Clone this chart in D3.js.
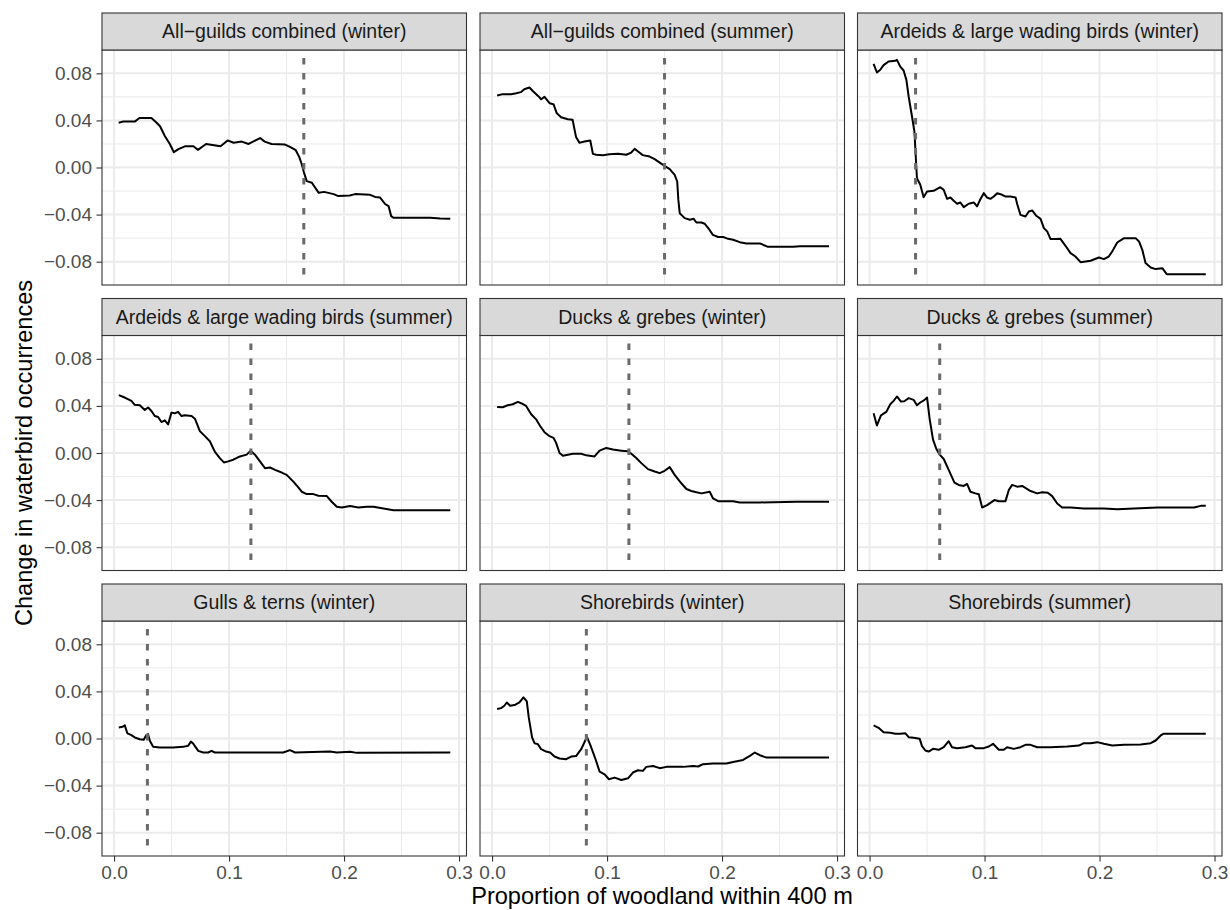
<!DOCTYPE html>
<html>
<head>
<meta charset="utf-8">
<script src="https://cdn.jsdelivr.net/npm/d3@7"></script>
<style>
  body { margin: 0; background: #fff; }
  text { font-family: "Liberation Sans", Arial, sans-serif; }
</style>
</head>
<body>
<div class="facetChart"></div>
<script>
// panel titles, in facet order (row by row)
var panelTitles = [
  "All\u2212guilds combined (winter)",
  "All\u2212guilds combined (summer)",
  "Ardeids & large wading birds (winter)",
  "Ardeids & large wading birds (summer)",
  "Ducks & grebes (winter)",
  "Ducks & grebes (summer)",
  "Gulls & terns (winter)",
  "Shorebirds (winter)",
  "Shorebirds (summer)"
];

// threshold (dashed line) per panel, null = none
var thresholds = [0.165, 0.150, 0.040, 0.119, 0.119, 0.061, 0.029, 0.082, null];

var xTicks = [0, 0.1, 0.2, 0.3];
var xMinor = [0.05, 0.15, 0.25];
var yTicks = [-0.08, -0.04, 0, 0.04, 0.08];
var yMinor = [-0.06, -0.02, 0.02, 0.06];

// [proportion of woodland, change in occurrence]
var allWinter = [[0.004,0.038],[0.008,0.039],[0.018,0.039],[0.022,0.042],[0.0325,0.042],[0.037,0.038],[0.040,0.035],[0.044,0.027],[0.0485,0.020],[0.052,0.013],[0.056,0.0156],[0.0616,0.018],[0.069,0.018],[0.073,0.015],[0.080,0.020],[0.0926,0.018],[0.0987,0.023],[0.104,0.021],[0.111,0.022],[0.117,0.020],[0.127,0.025],[0.131,0.022],[0.137,0.020],[0.1487,0.0195],[0.153,0.0175],[0.158,0.0147],[0.161,0.009],[0.163,0.0034],[0.165,-0.0037],[0.1675,-0.0116],[0.172,-0.013],[0.178,-0.0215],[0.1826,-0.0207],[0.191,-0.0226],[0.195,-0.0243],[0.205,-0.0238],[0.2096,-0.0226],[0.2227,-0.0232],[0.227,-0.025],[0.2314,-0.0255],[0.2357,-0.031],[0.2387,-0.0328],[0.241,-0.0413],[0.243,-0.0427],[0.275,-0.0427],[0.2837,-0.0433],[0.2924,-0.0436]];

var allSummer = [[0.0044,0.0611],[0.0093,0.0623],[0.0166,0.0623],[0.021,0.063],[0.025,0.064],[0.028,0.0665],[0.0325,0.068],[0.0354,0.065],[0.0398,0.061],[0.0427,0.058],[0.0456,0.060],[0.050,0.0546],[0.0534,0.0538],[0.0563,0.046],[0.060,0.0427],[0.066,0.041],[0.070,0.0405],[0.073,0.026],[0.076,0.021],[0.0804,0.022],[0.0854,0.0229],[0.0877,0.0116],[0.0906,0.0108],[0.0964,0.0105],[0.102,0.0113],[0.1095,0.0116],[0.1167,0.0108],[0.121,0.0127],[0.124,0.0158],[0.127,0.0136],[0.131,0.0105],[0.137,0.0093],[0.1414,0.0071],[0.1458,0.0042],[0.150,0.0014],[0.1545,-0.0014],[0.1588,-0.0062],[0.161,-0.0119],[0.162,-0.0275],[0.1632,-0.0388],[0.1675,-0.043],[0.172,-0.0444],[0.1753,-0.0436],[0.1777,-0.0467],[0.182,-0.0467],[0.185,-0.0478],[0.1887,-0.0523],[0.192,-0.0572],[0.1966,-0.059],[0.201,-0.059],[0.2053,-0.0606],[0.2096,-0.0614],[0.2154,-0.0634],[0.2213,-0.0645],[0.2329,-0.0645],[0.240,-0.0674],[0.262,-0.0674],[0.2677,-0.0668],[0.293,-0.0668]];

var ardWinter = [[0.0035,0.088],[0.0064,0.0807],[0.0093,0.083],[0.0122,0.087],[0.0165,0.090],[0.0224,0.0906],[0.0238,0.0914],[0.0267,0.0857],[0.0296,0.0824],[0.032,0.0744],[0.034,0.0603],[0.0369,0.0433],[0.039,0.0306],[0.040,0.0122],[0.0412,-0.0091],[0.0441,-0.0147],[0.047,-0.0252],[0.050,-0.0204],[0.0557,-0.0198],[0.0615,-0.0167],[0.0645,-0.019],[0.0674,-0.0266],[0.0703,-0.0255],[0.0732,-0.0283],[0.0761,-0.0308],[0.079,-0.0297],[0.0819,-0.0337],[0.0862,-0.0308],[0.0906,-0.0297],[0.0935,-0.033],[0.0964,-0.0269],[0.0993,-0.0218],[0.1022,-0.0255],[0.1051,-0.0266],[0.108,-0.0246],[0.111,-0.0218],[0.1153,-0.0232],[0.118,-0.0246],[0.1225,-0.0246],[0.127,-0.0255],[0.1283,-0.0308],[0.1312,-0.0402],[0.1356,-0.0416],[0.1385,-0.0374],[0.1414,-0.0365],[0.145,-0.041],[0.1487,-0.0436],[0.1516,-0.0515],[0.1545,-0.0543],[0.1574,-0.0608],[0.1617,-0.0608],[0.166,-0.0606],[0.1704,-0.0665],[0.1748,-0.0727],[0.179,-0.0756],[0.1835,-0.0804],[0.1922,-0.0792],[0.1995,-0.0764],[0.2038,-0.0778],[0.208,-0.0756],[0.211,-0.0713],[0.2154,-0.0637],[0.2213,-0.060],[0.2314,-0.060],[0.2343,-0.0628],[0.2372,-0.0699],[0.240,-0.0812],[0.2445,-0.0849],[0.2488,-0.0863],[0.2546,-0.0855],[0.2584,-0.0906],[0.2735,-0.0906],[0.2924,-0.0906]];

var ardSummer = [[0.0041,0.0491],[0.0093,0.0471],[0.0151,0.0443],[0.018,0.0409],[0.0224,0.0406],[0.0267,0.0366],[0.0296,0.0386],[0.0325,0.0357],[0.0354,0.0314],[0.0383,0.0306],[0.0412,0.0263],[0.0441,0.0277],[0.047,0.0243],[0.0499,0.0343],[0.0528,0.0337],[0.0557,0.0349],[0.0587,0.0314],[0.0616,0.032],[0.0674,0.0314],[0.0703,0.0291],[0.0746,0.0186],[0.079,0.0143],[0.0833,0.010],[0.0877,0.0009],[0.092,-0.0043],[0.0955,-0.008],[0.0993,-0.0071],[0.1037,-0.0057],[0.1095,-0.0029],[0.1153,-0.0014],[0.1188,0.002],[0.1225,-0.0014],[0.1269,-0.0071],[0.1312,-0.0129],[0.1356,-0.0123],[0.140,-0.0143],[0.1458,-0.0166],[0.1501,-0.0186],[0.1559,-0.0243],[0.1597,-0.0286],[0.1632,-0.0329],[0.1675,-0.0349],[0.1733,-0.0349],[0.1777,-0.0363],[0.185,-0.0366],[0.1893,-0.0414],[0.1937,-0.0457],[0.198,-0.0463],[0.2053,-0.0451],[0.2125,-0.0463],[0.2198,-0.0457],[0.2256,-0.0457],[0.2343,-0.0471],[0.243,-0.0486],[0.2924,-0.0486]];

var duckWinter = [[0.0044,0.0391],[0.0093,0.0389],[0.0136,0.0406],[0.018,0.0414],[0.0224,0.0434],[0.0253,0.0423],[0.0296,0.040],[0.034,0.0329],[0.0383,0.0286],[0.0418,0.0229],[0.0456,0.0177],[0.050,0.0143],[0.0534,0.0129],[0.0557,0.0086],[0.0587,0.0],[0.0616,-0.0023],[0.0659,-0.0014],[0.0703,-0.0006],[0.0775,-0.0006],[0.0819,-0.002],[0.0891,-0.0029],[0.0935,0.002],[0.0993,0.0043],[0.1051,0.0029],[0.1124,0.002],[0.1182,0.0014],[0.1211,-0.0006],[0.1254,-0.0043],[0.1298,-0.0086],[0.1356,-0.0137],[0.1414,-0.0157],[0.1458,-0.0171],[0.1501,-0.0151],[0.1545,-0.012],[0.1588,-0.0186],[0.1646,-0.0257],[0.169,-0.0306],[0.1733,-0.0323],[0.1777,-0.0334],[0.1821,-0.0343],[0.1893,-0.0329],[0.1922,-0.0386],[0.1966,-0.0409],[0.2024,-0.0409],[0.2096,-0.0409],[0.2154,-0.042],[0.2329,-0.042],[0.2648,-0.0414],[0.293,-0.0414]];

var duckSummer = [[0.0035,0.0337],[0.0064,0.0234],[0.0099,0.032],[0.0145,0.0349],[0.018,0.0414],[0.0209,0.0443],[0.0238,0.048],[0.0273,0.0437],[0.0302,0.044],[0.034,0.0466],[0.0383,0.0451],[0.0412,0.0406],[0.0441,0.0429],[0.0476,0.0449],[0.050,0.0471],[0.0523,0.0286],[0.0552,0.0114],[0.0581,0.0034],[0.061,-0.0014],[0.0645,-0.0051],[0.0688,-0.0143],[0.0738,-0.0251],[0.0775,-0.0271],[0.0819,-0.028],[0.0848,-0.0263],[0.0877,-0.0329],[0.092,-0.0343],[0.095,-0.0351],[0.0979,-0.0463],[0.1022,-0.0443],[0.1086,-0.040],[0.1124,-0.0409],[0.1182,-0.0409],[0.1211,-0.0314],[0.124,-0.0271],[0.1283,-0.0286],[0.1327,-0.028],[0.140,-0.0323],[0.1458,-0.0343],[0.1501,-0.0334],[0.155,-0.0337],[0.1588,-0.0366],[0.1632,-0.0429],[0.1675,-0.0463],[0.1748,-0.0463],[0.1864,-0.0471],[0.2038,-0.0471],[0.2154,-0.0477],[0.230,-0.0471],[0.2503,-0.0463],[0.2822,-0.0463],[0.288,-0.0449],[0.2924,-0.0449]];

var gullWinter = [[0.0041,0.0094],[0.0073,0.0099],[0.0093,0.0113],[0.0116,0.0043],[0.0151,0.0028],[0.018,0.0009],[0.0224,-0.0006],[0.0258,-0.0011],[0.0282,0.0031],[0.0296,0.0037],[0.0311,-0.002],[0.034,-0.0071],[0.0398,-0.0077],[0.0514,-0.0077],[0.0601,-0.0071],[0.0645,-0.0062],[0.0668,-0.0026],[0.0688,-0.0043],[0.0732,-0.0105],[0.0775,-0.0119],[0.0819,-0.0119],[0.0848,-0.0105],[0.0877,-0.0119],[0.1037,-0.0119],[0.1472,-0.0119],[0.153,-0.0099],[0.1574,-0.0119],[0.1879,-0.0111],[0.1937,-0.0119],[0.2053,-0.0113],[0.2111,-0.0122],[0.2924,-0.0119]];

var shoreWinter = [[0.0044,0.025],[0.0078,0.0258],[0.0107,0.0278],[0.0128,0.0306],[0.0157,0.0278],[0.0195,0.0284],[0.0238,0.0306],[0.0273,0.0349],[0.0302,0.0315],[0.0319,0.0179],[0.0348,0.0009],[0.0369,-0.004],[0.0398,-0.0048],[0.0427,-0.0091],[0.047,-0.0111],[0.0505,-0.0119],[0.0543,-0.0153],[0.0587,-0.017],[0.0645,-0.0176],[0.0688,-0.0153],[0.0732,-0.0148],[0.0775,-0.0091],[0.0825,0.0014],[0.0854,-0.0054],[0.090,-0.0176],[0.0935,-0.0281],[0.0979,-0.0304],[0.1016,-0.0346],[0.1066,-0.0332],[0.1124,-0.0352],[0.1182,-0.0338],[0.1225,-0.0289],[0.1269,-0.027],[0.1312,-0.0275],[0.1341,-0.0241],[0.140,-0.0233],[0.1458,-0.0252],[0.1516,-0.0241],[0.1661,-0.0241],[0.1748,-0.0233],[0.1792,-0.0238],[0.1835,-0.0218],[0.1922,-0.0213],[0.2038,-0.0213],[0.2096,-0.0199],[0.2183,-0.0182],[0.2242,-0.0148],[0.2285,-0.0119],[0.2329,-0.0142],[0.2387,-0.0162],[0.2532,-0.0162],[0.293,-0.0162]];

var shoreSummer = [[0.0035,0.0111],[0.0078,0.0091],[0.0122,0.0054],[0.018,0.0048],[0.0224,0.004],[0.0267,0.004],[0.031,0.0045],[0.034,0.0011],[0.0383,0.0006],[0.0436,-0.0003],[0.0456,-0.0065],[0.0485,-0.0102],[0.0514,-0.0111],[0.0552,-0.0088],[0.0601,-0.0096],[0.0645,-0.0074],[0.0688,-0.0023],[0.0717,-0.0074],[0.0761,-0.0082],[0.0833,-0.0074],[0.0891,-0.006],[0.092,-0.0082],[0.0993,-0.0082],[0.1037,-0.0068],[0.1074,-0.0045],[0.1124,-0.0096],[0.1167,-0.0096],[0.1196,-0.0074],[0.1254,-0.0088],[0.1312,-0.0074],[0.1356,-0.0054],[0.140,-0.0054],[0.1458,-0.0074],[0.1574,-0.0074],[0.1719,-0.0068],[0.182,-0.006],[0.1864,-0.004],[0.1922,-0.004],[0.198,-0.0031],[0.2038,-0.0045],[0.2111,-0.006],[0.2213,-0.0054],[0.2358,-0.0051],[0.2445,-0.004],[0.2488,-0.0017],[0.2532,0.0026],[0.2555,0.004],[0.2677,0.004],[0.2924,0.004]];

var series = [allWinter, allSummer, ardWinter, ardSummer, duckWinter, duckSummer, gullWinter, shoreWinter, shoreSummer];

function init() {
  var w = 1230;
  var h = 910;
  var colX = [102, 480, 857.5];
  var rowTop = [13, 298.5, 584];
  var panelW = 364.5;
  var stripH = 37;
  var panelH = 235;

  var svg = d3.select(".facetChart")
    .append("svg")
    .attr("width", w)
    .attr("height", h);

  var line = d3.line();

  series.forEach(function(data, i) {
    var col = i % 3;
    var row = Math.floor(i / 3);
    var left = colX[col];
    var top = rowTop[row] + stripH;

    var xScale = d3.scaleLinear()
      .domain([-0.0105, 0.3065])
      .range([left, left + panelW]);

    var yScale = d3.scaleLinear()
      .domain([-0.0998, 0.0998])
      .range([top + panelH, top]);

    var g = svg.append("g");

    // minor grid
    g.selectAll(".vminor").data(xMinor).enter().append("line")
      .attr("x1", function(d) { return xScale(d); })
      .attr("x2", function(d) { return xScale(d); })
      .attr("y1", top).attr("y2", top + panelH)
      .attr("stroke", "#ebebeb").attr("stroke-width", 1);
    g.selectAll(".hminor").data(yMinor).enter().append("line")
      .attr("y1", function(d) { return yScale(d); })
      .attr("y2", function(d) { return yScale(d); })
      .attr("x1", left).attr("x2", left + panelW)
      .attr("stroke", "#ebebeb").attr("stroke-width", 1);

    // major grid
    g.selectAll(".vmajor").data(xTicks).enter().append("line")
      .attr("x1", function(d) { return xScale(d); })
      .attr("x2", function(d) { return xScale(d); })
      .attr("y1", top).attr("y2", top + panelH)
      .attr("stroke", "#ebebeb").attr("stroke-width", 2);
    g.selectAll(".hmajor").data(yTicks).enter().append("line")
      .attr("y1", function(d) { return yScale(d); })
      .attr("y2", function(d) { return yScale(d); })
      .attr("x1", left).attr("x2", left + panelW)
      .attr("stroke", "#ebebeb").attr("stroke-width", 2);

    // curve
    line.x(function(d) { return xScale(d[0]); })
      .y(function(d) { return yScale(d[1]); });
    g.append("path")
      .datum(data)
      .attr("d", line)
      .attr("fill", "none")
      .attr("stroke", "#000")
      .attr("stroke-width", 2)
      .attr("stroke-linejoin", "round");

    // threshold
    if (thresholds[i] !== null) {
      g.append("line")
        .attr("x1", xScale(thresholds[i]))
        .attr("x2", xScale(thresholds[i]))
        .attr("y1", yScale(0.093))
        .attr("y2", yScale(-0.0945))
        .attr("stroke", "#6a6a6a")
        .attr("stroke-width", 3)
        .attr("stroke-dasharray", "6.5,8.5");
    }

    // panel border
    g.append("rect")
      .attr("x", left).attr("y", top)
      .attr("width", panelW).attr("height", panelH)
      .attr("fill", "none")
      .attr("stroke", "#333333")
      .attr("stroke-width", 1.1);

    // strip
    g.append("rect")
      .attr("x", left).attr("y", rowTop[row])
      .attr("width", panelW).attr("height", stripH)
      .attr("fill", "#d9d9d9")
      .attr("stroke", "#333333")
      .attr("stroke-width", 1.1);
    g.append("text")
      .attr("x", left + panelW / 2)
      .attr("y", rowTop[row] + stripH / 2)
      .attr("dy", "0.35em")
      .attr("text-anchor", "middle")
      .attr("font-size", "19.5px")
      .attr("fill", "#1a1a1a")
      .text(panelTitles[i]);

    // axes
    if (col === 0) {
      var yAxis = d3.axisLeft(yScale)
        .tickValues(yTicks)
        .tickSize(5.5)
        .tickPadding(4.5)
        .tickFormat(d3.format(".2f"));
      var ya = svg.append("g")
        .attr("transform", "translate(" + left + ",0)")
        .call(yAxis);
      ya.select(".domain").remove();
      ya.selectAll("line").attr("stroke", "#333333").attr("stroke-width", 1.1);
      ya.selectAll("text")
        .attr("font-size", "19px")
        .attr("fill", "#4d4d4d")
        .style("font-family", "'Liberation Sans', Arial, sans-serif");
    }
    if (row === 2) {
      var xAxis = d3.axisBottom(xScale)
        .tickValues(xTicks)
        .tickSize(5.5)
        .tickPadding(4.5)
        .tickFormat(d3.format(".1f"));
      var xa = svg.append("g")
        .attr("transform", "translate(0," + (top + panelH) + ")")
        .call(xAxis);
      xa.select(".domain").remove();
      xa.selectAll("line").attr("stroke", "#333333").attr("stroke-width", 1.1);
      xa.selectAll("text")
        .attr("font-size", "19px")
        .attr("fill", "#4d4d4d")
        .style("font-family", "'Liberation Sans', Arial, sans-serif");
    }
  });

  // axis titles
  svg.append("text")
    .attr("x", (colX[0] + colX[2] + panelW) / 2)
    .attr("y", 904)
    .attr("text-anchor", "middle")
    .attr("font-size", "23.6px")
    .attr("fill", "#000")
    .text("Proportion of woodland within 400 m");

  svg.append("text")
    .attr("transform", "translate(32," + ((rowTop[0] + stripH + rowTop[2] + stripH + panelH) / 2) + ") rotate(-90)")
    .attr("text-anchor", "middle")
    .attr("font-size", "23.6px")
    .attr("fill", "#000")
    .text("Change in waterbird occurrences");
}

window.onload = init;
</script>
</body>
</html>
